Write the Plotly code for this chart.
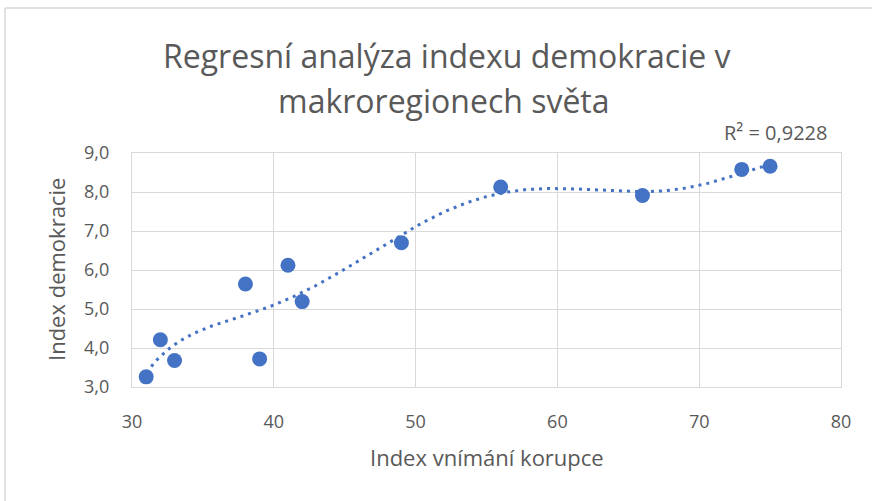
import numpy as np
import plotly.graph_objects as go

# Data
x_vals = [31, 32, 33, 38, 39, 41, 42, 49, 56, 66, 73, 75]
y_vals = [3.26, 4.21, 3.68, 5.64, 3.72, 6.12, 5.19, 6.70, 8.13, 7.91, 8.58, 8.66]
x_ticks = [30, 40, 50, 60, 70, 80]
y_ticks = [3, 4, 5, 6, 7, 8, 9]

title_lines = ["Regresní analýza indexu demokracie v", "makroregionech světa"]
x_title = "Index vnímání korupce"
y_title = "Index demokracie"
r2_label = "R² = 0,9228"

# Polynomial (order 6) trendline, as in Excel
poly = np.polynomial.Polynomial.fit(np.array(x_vals, float), np.array(y_vals, float), 6)
tx = np.linspace(min(x_vals), max(x_vals), 400)
ty = poly(tx)

BLUE = "#4472C4"
TXT = "#595959"
GRID = "#D9D9D9"
FONT = "Open Sans"

L, R, T, B = 132, 31, 153, 114
W, H = 872, 501
PW, PH = W - L - R, H - T - B


def px(xp):
    return (xp - L) / PW


def py(yp):
    return (H - B - yp) / PH


fig = go.Figure()
fig.add_trace(go.Scatter(x=tx, y=ty, mode="lines",
                         line=dict(color=BLUE, width=3, dash="3px,5px"),
                         hoverinfo="skip", showlegend=False))
fig.add_trace(go.Scatter(x=x_vals, y=y_vals, mode="markers",
                         marker=dict(color=BLUE, size=15, line=dict(width=0)),
                         showlegend=False))


def ann(text, x, y, size, angle=0):
    return dict(text=text, x=px(x), y=py(y), xref="paper", yref="paper",
                showarrow=False, xanchor="center", yanchor="middle", textangle=angle,
                font=dict(family=FONT, size=size, color=TXT))


annotations = [
    ann(title_lines[0], 447, 56, 32),
    ann(title_lines[1], 444, 101, 32),
    ann(r2_label, 775, 132, 20),
    ann(x_title, 487, 457, 22),
    ann(y_title, 56, 270, 22, -90),
]

shapes = [
    dict(type="line", xref="paper", yref="paper", x0=px(5), x1=px(5), y0=py(520), y1=py(8),
         line=dict(color=GRID, width=1.5)),
    dict(type="line", xref="paper", yref="paper", x0=px(5), x1=px(880), y0=py(8), y1=py(8),
         line=dict(color=GRID, width=1.5)),
]

fig.update_layout(
    width=W, height=H,
    margin=dict(l=L, r=R, t=T, b=B),
    paper_bgcolor="white", plot_bgcolor="white",
    separators=", ",
    font=dict(family=FONT, color=TXT, size=18),
    annotations=annotations,
    shapes=shapes,
    xaxis=dict(range=[30, 80], tickvals=x_ticks, showgrid=True, gridcolor=GRID, gridwidth=1.3,
               showline=True, linecolor=GRID, linewidth=1.3, mirror=True, zeroline=False,
               ticks="", tickfont=dict(size=18, color=TXT), ticklabelstandoff=18),
    yaxis=dict(range=[3, 9], tickvals=y_ticks, tickformat=".1f", showgrid=True, gridcolor=GRID,
               gridwidth=1.3, showline=True, linecolor=GRID, linewidth=1.3, mirror=True,
               zeroline=False, ticks="", tickfont=dict(size=18, color=TXT), ticklabelstandoff=18),
)

fig.write_html("out.html", config={"displayModeBar": False},
               post_script="document.body.style.margin='0';")
